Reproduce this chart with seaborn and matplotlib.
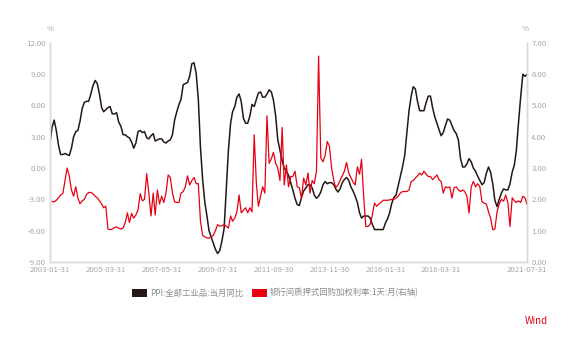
import numpy as np
import pandas as pd
import matplotlib
matplotlib.use("Agg")
import matplotlib.pyplot as plt
from matplotlib.patches import Patch
import seaborn as sns

# monthly, 2003-01 .. 2021-07
dates = pd.date_range("2003-01-31", "2021-07-31", freq="ME")

# PPI: all industrial products, YoY (%), left axis
ppi = [
    2.4, 3.9, 4.6, 3.6, 2.2, 1.3, 1.3, 1.4, 1.3, 1.2, 1.9, 3.0,
    3.5, 3.6, 4.5, 5.7, 6.3, 6.4, 6.4, 7.1, 7.9, 8.4, 8.1, 7.1,
    5.8, 5.4, 5.6, 5.8, 5.9, 5.2, 5.2, 5.3, 4.4, 4.0, 3.2, 3.2,
    3.0, 2.9, 2.5, 1.9, 2.4, 3.5, 3.6, 3.4, 3.5, 2.9, 2.8, 3.1,
    3.3, 2.6, 2.7, 2.8, 2.8, 2.5, 2.4, 2.6, 2.7, 3.2, 4.6, 5.4,
    6.1, 6.6, 8.0, 8.1, 8.2, 8.8, 10.0, 10.1, 9.1, 6.6, 2.0, -1.1,
    -3.3, -4.5, -6.0, -6.6, -7.2, -7.8, -8.2, -7.9, -7.0, -5.8, -2.1, 1.7,
    4.3, 5.4, 5.9, 6.8, 7.1, 6.4, 4.8, 4.3, 4.3, 5.0, 6.1, 5.9,
    6.6, 7.2, 7.3, 6.8, 6.8, 7.1, 7.5, 7.3, 6.5, 5.0, 2.7, 1.7,
    0.7, 0.0, -0.3, -0.7, -1.4, -2.1, -2.9, -3.5, -3.6, -2.8, -2.2, -1.9,
    -1.6, -1.6, -1.9, -2.6, -2.9, -2.7, -2.3, -1.6, -1.3, -1.5, -1.4, -1.4,
    -1.6, -2.0, -2.3, -2.0, -1.4, -1.1, -0.9, -1.2, -1.8, -2.2, -2.7, -3.3,
    -4.3, -4.8, -4.6, -4.6, -4.6, -4.8, -5.4, -5.9, -5.9, -5.9, -5.9, -5.9,
    -5.3, -4.9, -4.3, -3.4, -2.8, -2.6, -1.7, -0.8, 0.1, 1.2, 3.3, 5.5,
    6.9, 7.8, 7.6, 6.4, 5.5, 5.5, 5.5, 6.3, 6.9, 6.9, 5.8, 4.9,
    4.3, 3.7, 3.1, 3.4, 4.1, 4.7, 4.6, 4.1, 3.6, 3.3, 2.7, 0.9,
    0.1, 0.1, 0.4, 0.9, 0.6, 0.0, -0.3, -0.8, -1.2, -1.6, -1.4, -0.5,
    0.1, -0.4, -1.5, -3.1, -3.7, -3.0, -2.4, -2.0, -2.1, -2.1, -1.5, -0.4,
    0.3, 1.7, 4.4, 6.8, 9.0, 8.8, 9.0,
]

# interbank pledged repo weighted rate, 1 day, monthly (%), right axis
repo = [
    np.nan, 1.93, 1.92, 1.97, 2.05, 2.14, 2.18, 2.6, 3.0, 2.75, 2.3, 2.1,
    2.4, 2.05, 1.86, 1.95, 2.0, 2.15, 2.22, 2.22, 2.18, 2.1, 2.05, 1.95,
    1.85, 1.73, 1.78, 1.05, 1.03, 1.05, 1.1, 1.12, 1.08, 1.05, 1.08, 1.26,
    1.57, 1.26, 1.55, 1.4, 1.5, 1.66, 2.18, 1.95, 2.0, 2.82, 2.2, 1.47,
    2.2, 1.5, 2.3, 1.85, 2.1, 1.9, 2.2, 2.78, 2.7, 2.2, 1.92, 1.9,
    1.9, 2.2, 2.25, 2.4, 2.75, 2.46, 2.6, 2.7, 2.5, 2.5, 1.3, 0.85,
    0.8, 0.77, 0.76, 0.8, 0.85, 1.0, 1.19, 1.14, 1.16, 1.19, 1.14, 1.08,
    1.47, 1.3, 1.4, 1.6, 2.14, 1.57, 1.65, 1.73, 1.57, 1.73, 1.6, 4.06,
    2.5, 1.78, 2.1, 2.4, 2.2, 4.67, 3.15, 3.3, 3.5, 3.15, 3.0, 2.6,
    4.3, 2.46, 3.1, 2.4, 2.73, 2.73, 2.9, 2.4, 2.37, 2.04, 2.68, 2.46,
    2.84, 2.2, 2.6, 2.5, 2.9, 6.58, 3.32, 3.2, 3.4, 3.85, 3.7, 3.0,
    2.6, 2.37, 2.46, 2.6, 2.75, 2.9, 3.18, 2.84, 2.7, 2.55, 2.46, 3.04,
    2.8, 3.28, 2.05, 1.13, 1.13, 1.2, 1.5, 1.88, 1.78, 1.85, 1.9, 1.97,
    1.97, 1.97, 1.98, 2.0, 2.0, 2.04, 2.1, 2.2, 2.25, 2.25, 2.25, 2.3,
    2.57, 2.6, 2.68, 2.75, 2.84, 2.78, 2.9, 2.8, 2.73, 2.73, 2.63, 2.7,
    2.78, 2.63, 2.57, 2.2, 2.4, 2.37, 2.4, 2.04, 2.37, 2.4, 2.3, 2.25,
    2.3, 2.25, 2.1, 1.56, 2.4, 2.57, 2.4, 2.5, 2.4, 1.92, 1.88, 1.85,
    1.6, 1.4, 1.03, 1.05, 1.6, 1.85, 2.0, 1.94, 2.14, 1.9, 1.13, 2.05,
    1.95, 1.9, 1.95, 1.9, 2.1, 2.05, 1.83,
]

tick_labels = ["2003-01-31", "2005-03-31", "2007-05-31", "2009-07-31", "2011-09-30",
               "2013-11-30", "2016-01-31", "2018-03-31", "2021-07-31"]
left_ticks = [-9, -6, -3, 0, 3, 6, 9, 12]
right_ticks = [0, 1, 2, 3, 4, 5, 6, 7]
series_names = ["PPI:全部工业品:当月同比", "银行间质押式回购加权利率:1天:月(右轴)"]

df = pd.DataFrame({"date": dates, "ppi": ppi, "repo": repo})

sns.set_theme(style="white")
plt.rcParams['font.family'] = ['Noto Sans CJK SC', 'DejaVu Sans']

black = '#231815'
red = '#e60012'
grey_txt = '#a6a6a6'
spine_c = '#d9d9d9'

fig = plt.figure(figsize=(5.62, 3.52), dpi=100)
ax = fig.add_axes([0.089, 0.256, 0.849, 0.622])
ax2 = ax.twinx()

sns.lineplot(data=df, x="date", y="ppi", ax=ax, color=black, linewidth=1.1)
sns.lineplot(data=df, x="date", y="repo", ax=ax2, color=red, linewidth=0.9)

ax.set_xlim(dates[0], dates[-1])
ax.set_ylim(-9, 12)
ax2.set_ylim(0, 7)
ax.set_xticks(pd.to_datetime(tick_labels))
ax.set_xticklabels(tick_labels)
ax.set_yticks(left_ticks)
ax.set_yticklabels(['{:.2f}'.format(v) for v in left_ticks])
ax2.set_yticks(right_ticks)
ax2.set_yticklabels(['{:.2f}'.format(v) for v in right_ticks])

for a in (ax, ax2):
    a.set_xlabel('')
    a.set_ylabel('')
    a.tick_params(length=0, labelsize=5.6, colors=grey_txt, pad=3)
    for s in a.spines.values():
        s.set_color(spine_c)
        s.set_linewidth(1.0)
    a.spines['top'].set_visible(False)

fig.text(0.089, 0.918, '%', fontsize=5.6, color=grey_txt, ha='center', va='center')
fig.text(0.934, 0.918, '%', fontsize=5.6, color=grey_txt, ha='center', va='center')

handles = [Patch(facecolor=black, edgecolor='none'), Patch(facecolor=red, edgecolor='none')]
fig.legend(handles, series_names, loc='center', bbox_to_anchor=(0.49, 0.168), ncol=2,
           frameon=False, fontsize=6, handlelength=1.8, handleheight=1.1,
           handletextpad=0.4, columnspacing=1.0, labelcolor='#8c8c8c')

fig.text(0.975, 0.088, 'Wind', fontsize=7, color=red, ha='right', va='center')

fig.savefig('out.png', dpi=100)
